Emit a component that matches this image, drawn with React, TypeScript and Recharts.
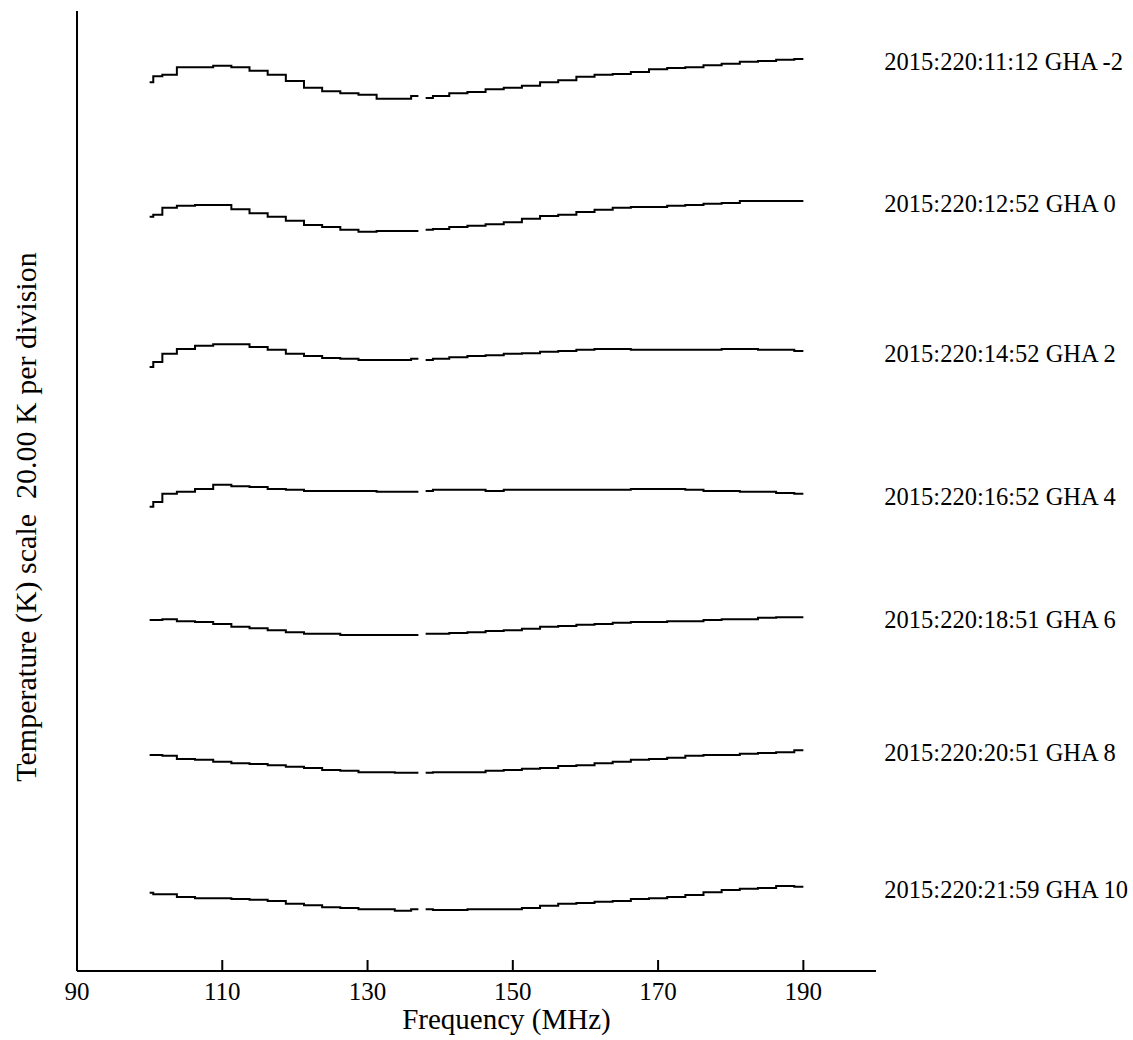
import React from 'react';
import { LineChart, Line, XAxis, YAxis, LabelList, Label } from 'recharts';

// Frequency grid (MHz); 137.5 is the gap in every trace
const frequencies = [
  100, 101, 102.5, 105, 107.5, 110, 112.5, 115, 117.5, 120, 122.5, 125, 127.5, 130, 132.5, 135, 137, 137.5,
  138, 140, 142.5, 145, 147.5, 150, 152.5, 155, 157.5, 160, 162.5, 165, 167.5, 170, 172.5, 175, 177.5, 180,
  182.5, 185, 187.5, 190,
];

// Offset temperature traces (K), 20 K per division
const ghaMinus2 = [
  129.6, 130.5, 130.7, 131.8, 131.8, 132.0, 131.8, 131.3, 130.7, 129.8, 128.8, 128.3, 128.0, 127.8, 127.2, 127.2, 127.6, null,
  127.3, 127.6, 128.0, 128.2, 128.6, 128.8, 129.1, 129.6, 129.9, 130.4, 130.7, 130.8, 131.1, 131.5, 131.7, 131.8, 132.1, 132.3,
  132.6, 132.7, 132.9, 133.0,
];
const gha0 = [
  110.0, 110.3, 111.3, 111.6, 111.7, 111.7, 111.1, 110.5, 110.0, 109.4, 108.8, 108.5, 108.1, 107.8, 107.9, 107.9, 107.9, null,
  108.1, 108.2, 108.5, 108.7, 108.9, 109.2, 109.7, 110.1, 110.3, 110.7, 111.0, 111.3, 111.4, 111.4, 111.6, 111.7, 111.9, 112.0,
  112.3, 112.3, 112.3, 112.3,
];
const gha2 = [
  88.1, 88.8, 90.0, 90.7, 91.2, 91.4, 91.4, 91.0, 90.6, 90.0, 89.7, 89.4, 89.3, 89.1, 89.1, 89.1, 89.3, null,
  89.1, 89.3, 89.5, 89.7, 89.8, 90.0, 90.1, 90.3, 90.4, 90.6, 90.7, 90.7, 90.6, 90.6, 90.6, 90.6, 90.6, 90.7,
  90.7, 90.6, 90.6, 90.4,
];
const gha4 = [
  67.7, 68.4, 69.6, 69.9, 70.3, 70.9, 70.7, 70.6, 70.3, 70.2, 70.0, 70.0, 70.0, 70.0, 69.9, 69.9, 69.9, null,
  70.0, 70.2, 70.2, 70.2, 70.0, 70.2, 70.2, 70.2, 70.2, 70.2, 70.2, 70.2, 70.3, 70.3, 70.3, 70.2, 70.0, 70.0,
  69.9, 69.9, 69.7, 69.6,
];
const gha6 = [
  51.2, 51.2, 51.3, 51.0, 50.9, 50.6, 50.2, 50.0, 49.7, 49.4, 49.2, 49.2, 49.0, 49.0, 49.0, 49.0, 49.0, null,
  49.2, 49.2, 49.3, 49.4, 49.6, 49.7, 49.9, 50.2, 50.3, 50.5, 50.6, 50.8, 50.9, 50.9, 51.0, 51.0, 51.2, 51.3,
  51.3, 51.5, 51.6, 51.6,
];
const gha8 = [
  31.5, 31.5, 31.4, 30.9, 30.8, 30.5, 30.3, 30.2, 30.0, 29.8, 29.6, 29.3, 29.2, 29.0, 29.0, 28.9, 28.9, null,
  28.9, 29.0, 29.0, 29.0, 29.2, 29.3, 29.5, 29.6, 29.9, 30.0, 30.3, 30.5, 30.8, 30.9, 31.1, 31.4, 31.5, 31.5,
  31.7, 31.8, 31.9, 32.2,
];
const gha10 = [
  11.4, 11.2, 11.2, 10.8, 10.6, 10.6, 10.5, 10.4, 10.2, 9.8, 9.6, 9.3, 9.2, 9.0, 9.0, 8.8, 9.0, null,
  9.0, 8.9, 8.9, 9.0, 9.0, 9.0, 9.2, 9.5, 9.8, 9.9, 10.1, 10.2, 10.5, 10.6, 10.8, 11.1, 11.5, 11.8,
  12.0, 12.1, 12.4, 12.3,
];

const seriesLabels = [
  '2015:220:11:12 GHA -2',
  '2015:220:12:52 GHA 0',
  '2015:220:14:52 GHA 2',
  '2015:220:16:52 GHA 4',
  '2015:220:18:51 GHA 6',
  '2015:220:20:51 GHA 8',
  '2015:220:21:59 GHA 10',
];
const seriesKeys = ['gm2', 'g0', 'g2', 'g4', 'g6', 'g8', 'g10'];
const seriesValues = [ghaMinus2, gha0, gha2, gha4, gha6, gha8, gha10];

const xTicks = [90, 110, 130, 150, 170, 190];
const yTicks = [20, 40, 60, 80, 100, 120];
const xDomain = [90, 200];
const yDomain = [0, 140];

const xLabel = 'Frequency (MHz)';
const yLabel = 'Temperature (K) scale\u00a0\u00a020.00 K per division';

const data = frequencies.map((f, i) => {
  const row: Record<string, number | null> = { freq: f };
  seriesValues.forEach((vals, j) => {
    row[seriesKeys[j]] = vals[i];
  });
  return row;
});

const FONT = 'Liberation Serif, Tinos, Times New Roman, DejaVu Serif, serif';
const textStyle = { fontFamily: FONT };

const makeEndLabel = (text: string) => (props: any) => {
  const { x, y, index } = props;
  if (index !== frequencies.length - 1 || x == null || y == null) return null;
  return (
    <text x={x + 81} y={y + 11} fontSize={24.5} style={textStyle} fill="#000">
      {text}
    </text>
  );
};

export default function App() {
  return (
    <div style={{ position: 'absolute', left: 0, top: 0, background: '#fff', fontFamily: FONT }}>
      <LineChart
        width={1133}
        height={1040}
        data={data}
        margin={{ top: 11, right: 257, bottom: 0, left: 0 }}
        style={textStyle}
      >
        <XAxis
          dataKey="freq"
          type="number"
          domain={xDomain}
          ticks={xTicks}
          height={69}
          allowDataOverflow
          axisLine={{ stroke: '#000', strokeWidth: 2 }}
          tickLine={{ stroke: '#000', strokeWidth: 2 }}
          tickSize={-11}
          tickMargin={22}
          tick={{ fill: '#000', fontSize: 25, fontFamily: FONT, style: textStyle }}
        >
          <Label
            content={(props: any) => {
              const vb = props.viewBox || {};
              return (
                <text
                  x={vb.x + vb.width / 2 + 30}
                  y={vb.y + 58}
                  textAnchor="middle"
                  fontSize={29}
                  style={textStyle}
                  fill="#000"
                >
                  {xLabel}
                </text>
              );
            }}
          />
        </XAxis>
        <XAxis
          xAxisId="top"
          orientation="top"
          dataKey="freq"
          type="number"
          domain={xDomain}
          height={0}
          tick={false}
          tickLine={false}
          axisLine={{ stroke: '#000', strokeWidth: 2 }}
        />
        <YAxis
          type="number"
          domain={yDomain}
          ticks={yTicks}
          width={77}
          allowDataOverflow
          axisLine={{ stroke: '#000', strokeWidth: 2 }}
          tickLine={{ stroke: '#000', strokeWidth: 2 }}
          tickSize={-11}
          tick={false}
        >
          <Label
            content={(props: any) => {
              const vb = props.viewBox || {};
              const cx = 35.5;
              const cy = vb.y + vb.height / 2 + 26;
              return (
                <text
                  x={cx}
                  y={cy}
                  transform={`rotate(-90, ${cx}, ${cy})`}
                  textAnchor="middle"
                  fontSize={30}
                  style={textStyle}
                  fill="#000"
                >
                  {yLabel}
                </text>
              );
            }}
          />
        </YAxis>
        <YAxis
          yAxisId="right"
          orientation="right"
          type="number"
          domain={yDomain}
          width={0}
          tick={false}
          tickLine={false}
          axisLine={{ stroke: '#000', strokeWidth: 2 }}
        />
        {seriesKeys.map((k, j) => (
          <Line
            key={k}
            dataKey={k}
            type="step"
            stroke="#000"
            strokeWidth={2}
            dot={false}
            activeDot={false}
            connectNulls={false}
            isAnimationActive={false}
          >
            <LabelList dataKey={k} content={makeEndLabel(seriesLabels[j])} />
          </Line>
        ))}
      </LineChart>
    </div>
  );
}
